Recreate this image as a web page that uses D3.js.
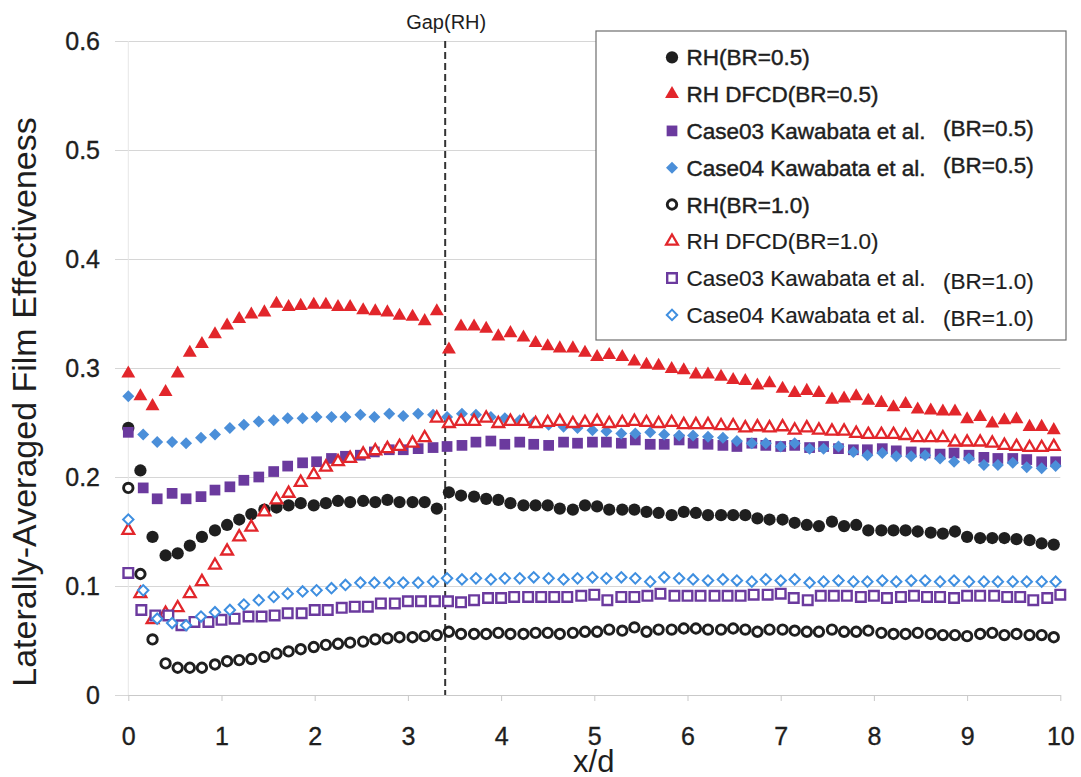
<!DOCTYPE html>
<html>
<head>
<meta charset="utf-8">
<script src="https://cdn.jsdelivr.net/npm/d3@7"></script>
<style>
  html, body { margin: 0; padding: 0; background: #fff; }
  svg { display: block; font-family: "Liberation Sans", Arial, sans-serif; }
</style>
</head>
<body>
<svg id="chart" width="1081" height="777"></svg>
<script>
// ---- sample stations (x/d) ----
const xRH = [0, 0.13, 0.26, 0.40, 0.53, 0.66, 0.79, 0.93, 1.06, 1.19,
  1.32, 1.46, 1.59, 1.72, 1.85, 1.99, 2.12, 2.25, 2.38, 2.52,
  2.65, 2.78, 2.91, 3.05, 3.18, 3.31, 3.44, 3.57, 3.71, 3.84,
  3.97, 4.10, 4.24, 4.37, 4.50, 4.63, 4.77, 4.90, 5.03, 5.16,
  5.30, 5.43, 5.56, 5.69, 5.83, 5.96, 6.09, 6.22, 6.36, 6.49,
  6.62, 6.75, 6.88, 7.02, 7.15, 7.28, 7.41, 7.55, 7.68, 7.81,
  7.94, 8.08, 8.21, 8.34, 8.47, 8.61, 8.74, 8.87, 9.00, 9.14,
  9.27, 9.40, 9.53, 9.67, 9.80, 9.93];

const xKaw = [0, 0.16, 0.31, 0.47, 0.62, 0.78, 0.93, 1.09, 1.24, 1.40,
  1.56, 1.71, 1.87, 2.02, 2.18, 2.33, 2.49, 2.64, 2.80, 2.95,
  3.11, 3.27, 3.42, 3.58, 3.73, 3.89, 4.04, 4.20, 4.35, 4.51,
  4.67, 4.82, 4.98, 5.13, 5.29, 5.44, 5.60, 5.75, 5.91, 6.06,
  6.22, 6.38, 6.53, 6.69, 6.84, 7.00, 7.15, 7.31, 7.46, 7.62,
  7.78, 7.93, 8.09, 8.24, 8.40, 8.55, 8.71, 8.86, 9.02, 9.18,
  9.33, 9.49, 9.64, 9.80, 9.95];

const xKawSq = [0, 0.14, 0.29, 0.43, 0.57, 0.71, 0.86, 1.00, 1.14, 1.29,
  1.43, 1.57, 1.71, 1.86, 2.00, 2.14, 2.29, 2.43, 2.57, 2.71,
  2.86, 3.00, 3.14, 3.29, 3.43, 3.57, 3.71, 3.86, 4.00, 4.14,
  4.29, 4.43, 4.57, 4.71, 4.86, 5.00, 5.14, 5.29, 5.43, 5.57,
  5.71, 5.86, 6.00, 6.14, 6.29, 6.43, 6.57, 6.71, 6.86, 7.00,
  7.14, 7.29, 7.43, 7.57, 7.71, 7.86, 8.00, 8.14, 8.29, 8.43,
  8.57, 8.71, 8.86, 9.00, 9.14, 9.29, 9.43, 9.57, 9.71, 9.86,
  10.00];

// ---- laterally-averaged film effectiveness ----
const rhBR05 = [0.245, 0.206, 0.145, 0.128, 0.130, 0.137, 0.145, 0.151, 0.156, 0.161,
  0.166, 0.170, 0.172, 0.174, 0.176, 0.174, 0.176, 0.178, 0.177, 0.178,
  0.177, 0.179, 0.177, 0.177, 0.177, 0.171, 0.186, 0.183, 0.182, 0.180,
  0.179, 0.176, 0.174, 0.174, 0.174, 0.171, 0.170, 0.174, 0.173, 0.170,
  0.170, 0.170, 0.168, 0.167, 0.165, 0.168, 0.167, 0.165, 0.165, 0.165,
  0.165, 0.162, 0.161, 0.161, 0.158, 0.156, 0.155, 0.159, 0.155, 0.156,
  0.151, 0.151, 0.151, 0.151, 0.150, 0.149, 0.148, 0.150, 0.145, 0.144,
  0.144, 0.144, 0.143, 0.142, 0.139, 0.138];

const dfcdBR05 = [0.295, 0.274, 0.265, 0.278, 0.295, 0.314, 0.322, 0.331, 0.339, 0.345,
  0.349, 0.351, 0.359, 0.356, 0.357, 0.358, 0.358, 0.356, 0.356, 0.353,
  0.352, 0.351, 0.348, 0.347, 0.343, 0.352, 0.317, 0.338, 0.338, 0.336,
  0.329, 0.332, 0.328, 0.323, 0.320, 0.318, 0.318, 0.314, 0.310, 0.312,
  0.310, 0.306, 0.303, 0.302, 0.299, 0.298, 0.294, 0.294, 0.292, 0.289,
  0.288, 0.284, 0.286, 0.281, 0.277, 0.279, 0.277, 0.271, 0.272, 0.274,
  0.270, 0.268, 0.264, 0.267, 0.262, 0.261, 0.260, 0.260, 0.253, 0.255,
  0.249, 0.252, 0.253, 0.246, 0.246, 0.243];

const case03BR05 = [0.241, 0.190, 0.180, 0.185, 0.180, 0.182, 0.188, 0.191, 0.197, 0.200,
  0.205, 0.210, 0.213, 0.214, 0.217, 0.219, 0.220, 0.223, 0.225, 0.225,
  0.226, 0.227, 0.228, 0.229, 0.232, 0.233, 0.230, 0.232, 0.230, 0.229,
  0.232, 0.231, 0.232, 0.232, 0.231, 0.234, 0.230, 0.230, 0.234, 0.231,
  0.230, 0.229, 0.228, 0.231, 0.229, 0.228, 0.229, 0.227, 0.228, 0.226,
  0.225, 0.225, 0.226, 0.224, 0.223, 0.222, 0.221, 0.222, 0.220, 0.218,
  0.217, 0.217, 0.216, 0.214, 0.214];

const case04BR05 = [0.274, 0.239, 0.232, 0.232, 0.231, 0.236, 0.239, 0.245, 0.248, 0.251,
  0.252, 0.254, 0.254, 0.255, 0.255, 0.255, 0.257, 0.255, 0.258, 0.256,
  0.258, 0.257, 0.255, 0.258, 0.257, 0.255, 0.254, 0.252, 0.250, 0.248,
  0.246, 0.245, 0.243, 0.242, 0.240, 0.240, 0.241, 0.239, 0.238, 0.238,
  0.237, 0.236, 0.233, 0.231, 0.231, 0.228, 0.231, 0.226, 0.226, 0.228,
  0.223, 0.220, 0.222, 0.219, 0.219, 0.220, 0.217, 0.214, 0.217, 0.211,
  0.211, 0.213, 0.209, 0.208, 0.210];

const rhBR10 = [0.190, 0.111, 0.051, 0.029, 0.025, 0.025, 0.025, 0.028, 0.031, 0.032,
  0.033, 0.035, 0.038, 0.040, 0.042, 0.044, 0.046, 0.047, 0.048, 0.049,
  0.051, 0.052, 0.053, 0.053, 0.054, 0.055, 0.058, 0.056, 0.056, 0.056,
  0.057, 0.056, 0.056, 0.057, 0.057, 0.056, 0.057, 0.058, 0.058, 0.060,
  0.059, 0.062, 0.058, 0.060, 0.060, 0.061, 0.061, 0.060, 0.060, 0.061,
  0.060, 0.058, 0.060, 0.060, 0.059, 0.058, 0.058, 0.060, 0.058, 0.058,
  0.059, 0.057, 0.056, 0.056, 0.057, 0.056, 0.055, 0.055, 0.054, 0.056,
  0.057, 0.055, 0.056, 0.055, 0.055, 0.053];

const dfcdBR10 = [0.151, 0.093, 0.069, 0.075, 0.080, 0.093, 0.104, 0.119, 0.132, 0.145,
  0.154, 0.168, 0.179, 0.185, 0.195, 0.202, 0.209, 0.214, 0.217, 0.221,
  0.224, 0.226, 0.228, 0.231, 0.236, 0.254, 0.249, 0.251, 0.251, 0.254,
  0.249, 0.251, 0.251, 0.249, 0.250, 0.251, 0.249, 0.250, 0.251, 0.249,
  0.250, 0.251, 0.250, 0.249, 0.250, 0.248, 0.248, 0.248, 0.247, 0.247,
  0.245, 0.246, 0.245, 0.246, 0.243, 0.245, 0.243, 0.242, 0.242, 0.240,
  0.239, 0.239, 0.239, 0.238, 0.236, 0.236, 0.236, 0.232, 0.232, 0.232,
  0.231, 0.229, 0.228, 0.227, 0.227, 0.228];

const case03BR10 = [0.112, 0.078, 0.073, 0.073, 0.064, 0.067, 0.067, 0.069, 0.070, 0.072,
  0.072, 0.073, 0.075, 0.075, 0.078, 0.078, 0.080, 0.081, 0.081, 0.084,
  0.084, 0.086, 0.086, 0.086, 0.086, 0.085, 0.087, 0.089, 0.089, 0.090,
  0.090, 0.090, 0.090, 0.090, 0.091, 0.092, 0.087, 0.090, 0.090, 0.091,
  0.093, 0.091, 0.091, 0.091, 0.091, 0.091, 0.091, 0.092, 0.092, 0.093,
  0.089, 0.087, 0.091, 0.091, 0.091, 0.090, 0.091, 0.089, 0.090, 0.091,
  0.090, 0.090, 0.089, 0.091, 0.091, 0.091, 0.090, 0.090, 0.087, 0.089,
  0.092];

const case04BR10 = [0.161, 0.096, 0.070, 0.066, 0.064, 0.072, 0.076, 0.078, 0.083, 0.087,
  0.090, 0.093, 0.095, 0.096, 0.098, 0.101, 0.103, 0.103, 0.103, 0.103,
  0.103, 0.104, 0.107, 0.106, 0.107, 0.106, 0.107, 0.107, 0.108, 0.107,
  0.106, 0.107, 0.108, 0.107, 0.108, 0.107, 0.104, 0.108, 0.107, 0.106,
  0.105, 0.106, 0.105, 0.104, 0.106, 0.105, 0.106, 0.103, 0.104, 0.105,
  0.104, 0.104, 0.105, 0.104, 0.105, 0.105, 0.104, 0.105, 0.104, 0.104,
  0.104, 0.104, 0.104, 0.104, 0.104];

// ---- axes ticks and labels ----
const xTicks = [0, 1, 2, 3, 4, 5, 6, 7, 8, 9, 10];
const yTicks = [0, 0.1, 0.2, 0.3, 0.4, 0.5, 0.6];
const gapX = 3.4;
const xTitle = "x/d";
const yTitle = "Laterally-Averaged Film Effectiveness";
const gapLabel = "Gap(RH)";

const legendNames = ["RH(BR=0.5)", "RH DFCD(BR=0.5)", "Case03 Kawabata et al.", "Case04 Kawabata et al.",
  "RH(BR=1.0)", "RH DFCD(BR=1.0)", "Case03 Kawabata et al.", "Case04 Kawabata et al."];
const legendSuffix = ["", "", "(BR=0.5)", "(BR=0.5)", "", "", "(BR=1.0)", "(BR=1.0)"];

// ---- layout ----
const W = 1081, H = 777;
const plot = { left: 128.3, right: 1060.3, top: 41, bottom: 695, gridLeft: 115 };
const FONT = '"Liberation Sans", Arial, sans-serif';
const INK = "#1e1e1e";

const x = d3.scaleLinear().domain([0, 10]).range([plot.left, plot.right]);
const y = d3.scaleLinear().domain([0, 0.6]).range([plot.bottom, plot.top]);

const svg = d3.select("#chart");
svg.append("rect").attr("width", W).attr("height", H).attr("fill", "#fff");

// horizontal gridlines with y labels
const gy = svg.append("g")
  .attr("transform", `translate(${plot.gridLeft},0)`)
  .call(d3.axisLeft(y).tickValues(yTicks)
    .tickFormat(d => d === 0 ? "0" : d3.format(".1f")(d))
    .tickSize(-(plot.right - plot.gridLeft)).tickPadding(15))
  .attr("font-family", FONT).attr("font-size", 25);
gy.select(".domain").remove();
gy.selectAll(".tick line").attr("stroke", "#d6d6d6").attr("stroke-width", 1);
gy.selectAll(".tick text").attr("fill", INK).attr("stroke", INK).attr("stroke-width", 0.35);

// faint vertical axis line
svg.append("line")
  .attr("x1", x(0)).attr("x2", x(0)).attr("y1", y(0.6)).attr("y2", y(0))
  .attr("stroke", "#e6e6e6").attr("stroke-width", 1);

// bottom axis
const gx = svg.append("g")
  .attr("transform", `translate(0,${plot.bottom})`)
  .call(d3.axisBottom(x).tickValues(xTicks).tickFormat(d3.format("d"))
    .tickSize(6).tickSizeOuter(0).tickPadding(26))
  .attr("font-family", FONT).attr("font-size", 25);
gx.select(".domain").attr("stroke", "#c9c9c9");
gx.selectAll(".tick line").attr("stroke", "#c9c9c9");
gx.selectAll(".tick text").attr("fill", INK).attr("stroke", INK).attr("stroke-width", 0.35);

// axis titles
svg.append("text")
  .attr("x", (plot.left + plot.right) / 2 - 0.5).attr("y", 772)
  .attr("text-anchor", "middle").attr("font-family", FONT).attr("font-size", 31)
  .attr("fill", INK).text(xTitle);

svg.append("text")
  .attr("transform", `translate(36,${402}) rotate(-90)`)
  .attr("text-anchor", "middle").attr("font-family", FONT).attr("font-size", 34)
  .attr("fill", INK).text(yTitle);

// gap marker
svg.append("line")
  .attr("x1", x(gapX)).attr("x2", x(gapX)).attr("y1", y(0.6)).attr("y2", y(0))
  .attr("stroke", "#333").attr("stroke-width", 2).attr("stroke-dasharray", "7,4");
svg.append("text")
  .attr("x", x(gapX) + 1).attr("y", 29)
  .attr("text-anchor", "middle").attr("font-family", FONT).attr("font-size", 20)
  .attr("fill", INK).text(gapLabel);

// ---- marker styles ----
const RED = "#e2262b", BLACK = "#1f1f1f", PURPLE = "#6b3a9e", BLUE = "#4b8fd9";
const styles = [
  { type: d3.symbolCircle,   size: 118, fill: BLACK,  stroke: "none", sw: 0 },
  { type: d3.symbolTriangle, size: 84,  fill: RED,    stroke: "none", sw: 0 },
  { type: d3.symbolSquare,   size: 115, fill: PURPLE, stroke: "none", sw: 0 },
  { type: d3.symbolSquare,   size: 72,  fill: BLUE,   stroke: "none", sw: 0, rot: 45 },
  { type: d3.symbolCircle,   size: 70,  fill: "#fff", stroke: BLACK,  sw: 2.9 },
  { type: d3.symbolTriangle, size: 60,  fill: "#fff", stroke: RED,    sw: 2.3 },
  { type: d3.symbolSquare,   size: 92,  fill: "#fff", stroke: PURPLE, sw: 2.4 },
  { type: d3.symbolSquare,   size: 54,  fill: "#fff", stroke: "#3f8fe0", sw: 2.0, rot: 45 }
];

const series = [
  { xs: xRH, ys: rhBR05 },
  { xs: xRH, ys: dfcdBR05 },
  { xs: xKaw, ys: case03BR05 },
  { xs: xKaw, ys: case04BR05 },
  { xs: xRH, ys: rhBR10 },
  { xs: xRH, ys: dfcdBR10 },
  { xs: xKawSq, ys: case03BR10 },
  { xs: xKaw, ys: case04BR10 }
];

function markerPath(st) {
  return d3.symbol().type(st.type).size(st.size)();
}

const marks = svg.append("g");
series.forEach((s, i) => {
  const st = styles[i];
  const pts = s.ys.map((v, k) => [s.xs[k], v]);
  marks.append("g").selectAll("path").data(pts).join("path")
    .attr("d", markerPath(st))
    .attr("transform", d => `translate(${x(d[0])},${y(d[1])})` + (st.rot ? ` rotate(${st.rot})` : ""))
    .attr("fill", st.fill)
    .attr("stroke", st.stroke)
    .attr("stroke-width", st.sw);
});

// ---- legend ----
const leg = svg.append("g");
leg.append("rect")
  .attr("x", 596).attr("y", 31).attr("width", 470).attr("height", 309)
  .attr("fill", "#fff").attr("stroke", "#6e6e6e").attr("stroke-width", 1.2);

legendNames.forEach((name, i) => {
  const cy = 57.3 + i * 36.8;
  const st = styles[i];
  leg.append("path")
    .attr("d", markerPath(st))
    .attr("transform", `translate(672,${cy})` + (st.rot ? ` rotate(${st.rot})` : ""))
    .attr("fill", st.fill).attr("stroke", st.stroke).attr("stroke-width", st.sw);
  leg.append("text")
    .attr("x", 686.5).attr("y", cy + 8)
    .attr("font-family", FONT).attr("font-size", 22.5).attr("fill", INK)
    .attr("stroke", INK).attr("stroke-width", i < 5 ? 0.45 : 0.2)
    .text(name);
  if (legendSuffix[i]) {
    leg.append("text")
      .attr("x", 943).attr("y", cy + 8 + (i < 4 ? -2.5 : 3))
      .attr("font-family", FONT).attr("font-size", 22.5).attr("fill", INK)
      .attr("stroke", INK).attr("stroke-width", i < 5 ? 0.45 : 0.2)
      .text(legendSuffix[i]);
  }
});
</script>
</body>
</html>
